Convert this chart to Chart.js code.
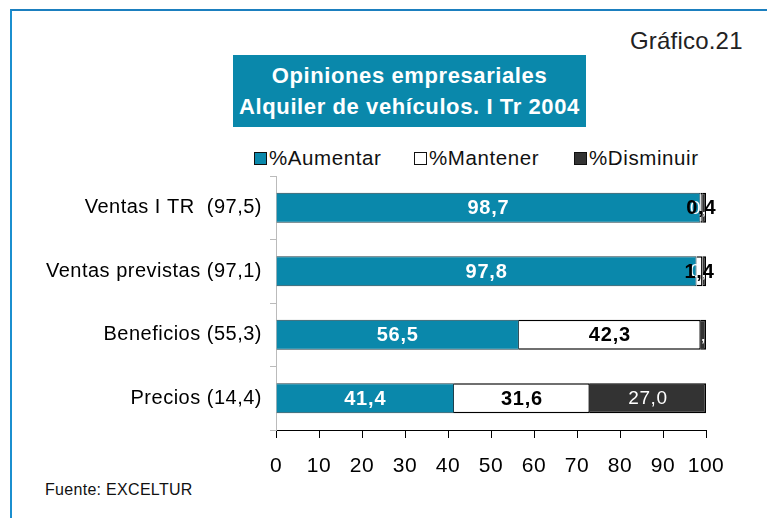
<!DOCTYPE html>
<html>
<head>
<meta charset="utf-8">
<script src="https://cdn.jsdelivr.net/npm/chart.js@4"></script>
<style>
  body { margin: 0; background: #fff; font-family: "Liberation Sans", Arial, sans-serif; }
  #wrap { position: relative; width: 767px; height: 518px; overflow: hidden; }
  #frame { position: absolute; left: 10px; top: 9px; width: 800px; height: 600px;
           border-top: 2px solid #1b7fbf; border-left: 2px solid #1b8fcf; }
  #num { position: absolute; left: 630px; top: 27px; font-size: 24px; color: #222; letter-spacing: 0.2px; }
  #title { position: absolute; left: 233px; top: 55px; width: 353px; height: 72px; background: #0a88ab;
           color: #fff; font-weight: bold; font-size: 22px; text-align: center; line-height: 31px;
           letter-spacing: 0.6px; padding-top: 5px; box-sizing: border-box; white-space: nowrap; }
  #legend { position: absolute; top: 146px; left: 0; height: 24px; font-size: 20.5px; color: #111; letter-spacing: 0.6px; }
  .item { position: absolute; top: 0; white-space: nowrap; }
  .box { position: absolute; top: 6px; width: 11px; height: 11px; border: 1px solid #111; }
  .lbl { position: absolute; left: 15px; top: 0; }
  #src { position: absolute; left: 45px; top: 481px; font-size: 16px; color: #111; letter-spacing: 0.3px; }
  canvas { position: absolute; left: 0; top: 0; }
</style>
</head>
<body>
<div id="wrap">
  <div id="frame"></div>
  <div id="num">Gráfico.21</div>
  <div id="title">Opiniones empresariales<br>Alquiler de vehículos. I Tr 2004</div>
  <div id="legend"></div>
  <div id="src">Fuente: EXCELTUR</div>
  <canvas id="c" width="767" height="518"></canvas>
</div>
<script>
const categories = ['Ventas I TR  (97,5)', 'Ventas previstas (97,1)', 'Beneficios (55,3)', 'Precios (14,4)'];
const seriesNames = ['%Aumentar', '%Mantener', '%Disminuir'];
const aumentar = [98.7, 97.8, 56.5, 41.4];
const mantener = [0.4, 1.4, 42.3, 31.6];
const disminuir = [0.9, 0.8, 1.2, 27.0];
const xTicks = [0, 10, 20, 30, 40, 50, 60, 70, 80, 90, 100];

const colors = ['#0a88ab', '#ffffff', '#333333'];
const labelStyles = [
  { color: '#fff', font: 'bold 20px "Liberation Sans", Arial', spacing: '0.8px' },
  { color: '#000', font: 'bold 20px "Liberation Sans", Arial', spacing: '0.8px' },
  { color: '#fff', font: '19px "Liberation Sans", Arial', spacing: '0.6px' }
];
const drawOrder = [0, 2, 1];

// legend built from the series names
const legendX = [254, 414, 574];
const legend = document.getElementById('legend');
seriesNames.forEach((name, i) => {
  const item = document.createElement('div');
  item.className = 'item';
  item.style.left = legendX[i] + 'px';
  item.innerHTML = '<div class="box" style="background:' + colors[i] + '"></div><div class="lbl">' + name + '</div>';
  legend.appendChild(item);
});

const fmt = v => v.toFixed(1).replace('.', ',');

const wideText = {
  id: 'wideText',
  beforeDraw(chart) { chart.ctx.letterSpacing = '0.5px'; },
  afterDraw(chart) { chart.ctx.letterSpacing = '0px'; }
};

const barLabels = {
  id: 'barLabels',
  afterDatasetsDraw(chart) {
    const ctx = chart.ctx;
    ctx.save();
    ctx.textAlign = 'center';
    ctx.textBaseline = 'middle';
    drawOrder.forEach(i => {
      const ds = chart.data.datasets[i];
      const meta = chart.getDatasetMeta(i);
      meta.data.forEach((bar, j) => {
        const p = bar.getProps(['x', 'y', 'base'], true);
        ctx.fillStyle = labelStyles[i].color;
        ctx.font = labelStyles[i].font;
        ctx.letterSpacing = labelStyles[i].spacing;
        ctx.fillText(fmt(ds.data[j]), (p.x + p.base) / 2, p.y + 1);
      });
    });
    ctx.restore();
  }
};

new Chart(document.getElementById('c'), {
  type: 'bar',
  data: {
    labels: categories,
    datasets: [
      { label: seriesNames[0], data: aumentar, backgroundColor: colors[0], borderColor: '#1f3f4a', borderWidth: 1 },
      { label: seriesNames[1], data: mantener, backgroundColor: colors[1], borderColor: '#000', borderWidth: 1.5 },
      { label: seriesNames[2], data: disminuir, backgroundColor: colors[2], borderColor: '#000', borderWidth: 1.5 }
    ]
  },
  options: {
    indexAxis: 'y',
    responsive: false,
    animation: false,
    layout: { padding: { top: 176, right: 61, left: 0, bottom: 0 } },
    datasets: { bar: { categoryPercentage: 1, barPercentage: 0.47 } },
    plugins: { legend: { display: false }, tooltip: { enabled: false } },
    scales: {
      x: {
        stacked: true,
        min: 0,
        max: 100,
        afterBuildTicks: scale => { scale.ticks = xTicks.map(v => ({ value: v })); },
        afterFit: scale => { scale.height = 88; },
        border: { display: true, color: '#000', width: 1 },
        grid: { drawOnChartArea: false, drawTicks: true, tickLength: 8, color: '#000' },
        ticks: { color: '#000', font: { family: '"Liberation Sans", Arial', size: 21 }, padding: 16, maxRotation: 0 }
      },
      y: {
        stacked: true,
        afterFit: scale => { scale.width = 276; },
        border: { display: true, color: '#bbb', width: 1 },
        grid: { drawOnChartArea: false, drawTicks: true, tickLength: 6, color: '#bbb', offset: true },
        ticks: { color: '#000', font: { family: '"Liberation Sans", Arial', size: 20 }, padding: 8 }
      }
    }
  },
  plugins: [wideText, barLabels]
});
</script>
</body>
</html>
